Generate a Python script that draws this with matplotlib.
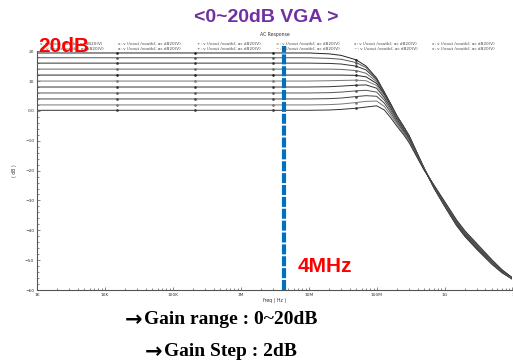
import numpy as np
import matplotlib
matplotlib.use("Agg")
import matplotlib.pyplot as plt
from matplotlib.ticker import FixedLocator, LogLocator, NullFormatter

# frequency points (Hz)
freq = [1e3, 1.5e4, 2.1e5, 3e6, 1e7, 2e7, 3e7, 5e7, 7e7, 1e8, 1.3e8, 1.6e8,
        2e8, 2.5e8, 3e8, 4e8, 5e8, 7e8, 1e9, 1.5e9, 2e9, 3e9, 5e9, 7e9, 1e10]

# gain settings (dB) and magnitude response per setting (dB)
gains = [20, 18, 16, 14, 12, 10, 8, 6, 4, 2, 0]
mag = {
    20: [19.4, 19.4, 19.4, 19.4, 19.4, 19.1, 18.6, 17.1, 15.0, 11.0, 6.3, 2.5, -1.7, -5.2, -8.2,
         -14.4, -19.2, -25.9, -31.9, -38.4, -42.1, -46.4, -51.4, -54.2, -56.4],
    18: [17.8, 17.8, 17.8, 17.8, 17.8, 17.6, 17.3, 16.2, 14.5, 10.8, 6.2, 2.4, -1.8, -5.3, -8.3,
         -14.4, -19.2, -25.8, -31.8, -38.2, -41.9, -46.2, -51.3, -54.1, -56.4],
    16: [16.0, 16.0, 16.0, 16.0, 16.0, 15.9, 15.7, 15.0, 13.7, 10.4, 6.0, 2.3, -1.9, -5.4, -8.4,
         -14.5, -19.2, -25.7, -31.7, -38.1, -41.8, -46.1, -51.2, -54.0, -56.3],
    14: [14.0, 14.0, 14.0, 14.0, 14.0, 14.0, 13.9, 13.5, 12.6, 9.8, 5.8, 2.1, -2.0, -5.5, -8.5,
         -14.6, -19.2, -25.6, -31.5, -37.9, -41.6, -45.9, -51.1, -53.9, -56.3],
    12: [12.0, 12.0, 12.0, 12.0, 12.0, 12.0, 12.0, 11.9, 11.4, 9.2, 5.5, 1.9, -2.2, -5.7, -8.6,
         -14.7, -19.3, -25.5, -31.3, -37.7, -41.4, -45.7, -50.9, -53.8, -56.2],
    10: [10.0, 10.0, 10.0, 10.0, 10.0, 10.1, 10.2, 10.3, 10.1, 8.5, 5.0, 1.6, -2.4, -5.9, -8.8,
         -14.8, -19.3, -25.4, -31.2, -37.5, -41.2, -45.5, -50.8, -53.7, -56.2],
    8: [8.0, 8.0, 8.0, 8.0, 8.0, 8.1, 8.3, 8.6, 8.7, 7.6, 4.4, 1.1, -2.8, -6.2, -9.0,
        -15.0, -19.4, -25.3, -31.0, -37.3, -41.0, -45.3, -50.6, -53.6, -56.1],
    6: [6.0, 6.0, 6.0, 6.0, 6.0, 6.1, 6.3, 6.7, 6.9, 6.3, 3.6, 0.4, -3.3, -6.6, -9.3,
        -15.2, -19.5, -25.2, -30.9, -37.1, -40.8, -45.1, -50.5, -53.5, -56.1],
    4: [4.0, 4.0, 4.0, 4.0, 4.0, 4.1, 4.3, 4.8, 5.1, 4.9, 2.6, -0.4, -3.9, -7.0, -9.7,
        -15.4, -19.6, -25.1, -30.7, -36.9, -40.6, -44.9, -50.3, -53.4, -56.0],
    2: [2.0, 2.0, 2.0, 2.0, 2.0, 2.1, 2.3, 2.8, 3.2, 3.3, 1.5, -1.3, -4.5, -7.5, -10.1,
        -15.6, -19.7, -25.0, -30.5, -36.7, -40.4, -44.7, -50.1, -53.3, -56.0],
    0: [0.2, 0.2, 0.2, 0.2, 0.2, 0.3, 0.5, 0.9, 1.3, 1.7, 0.3, -2.2, -5.2, -8.0, -10.6,
        -15.8, -19.8, -24.9, -30.3, -36.5, -40.2, -44.5, -49.9, -53.2, -55.9],
}
colors = ["#222222", "#555555", "#333333", "#666666", "#222222", "#777777",
          "#333333", "#555555", "#444444", "#777777", "#333333"]

legend_labels = ["v: v (/vout /voutb); ac dB20(V)", "x: v (/vout /voutb); ac dB20(V)",
                 "+: v (/vout /voutb); ac dB20(V)", "=: v (/vout /voutb); ac dB20(V)",
                 "x: v (/vout /voutb); ac dB20(V)", "x: v (/vout /voutb); ac dB20(V)",
                 "=: v (/vout /voutb); ac dB20(V)", "a: v (/vout /voutb); ac dB20(V)",
                 "+: v (/vout /voutb); ac dB20(V)", "~: v (/vout /voutb); ac dB20(V)",
                 "~: v (/vout /voutb); ac dB20(V)", "x: v (/vout /voutb); ac dB20(V)"]

xticks = [1e3, 1e4, 1e5, 1e6, 1e7, 1e8, 1e9, 1e10]
xtick_labels = ["1K", "10K", "100K", "1M", "10M", "100M", "1G", "1"]
yticks = [20, 10, 0, -10, -20, -30, -40, -50, -60]
ytick_labels = ["20", "10", "0.0", "\u221210", "\u221220", "\u221230", "\u221240", "\u221250", "\u221260"]

bw_freq = 4.3e6  # marked bandwidth line

fig = plt.figure(figsize=(5.13, 3.63), dpi=100)
ax = fig.add_axes([0.072, 0.201, 0.927, 0.658])

for g, c in zip(gains, colors):
    ax.plot(freq, mag[g], color=c, lw=0.7, marker="o", ms=0.9, markevery=[1, 2, 3, 7],
            zorder=2)

ax.set_xscale("log")
ax.set_xlim(1e3, 1e10)
ax.set_ylim(-60, 20)
ax.xaxis.set_major_locator(FixedLocator(xticks))
ax.set_xticklabels(xtick_labels)
ax.xaxis.set_minor_locator(LogLocator(base=10, subs=np.arange(2, 10)))
ax.xaxis.set_minor_formatter(NullFormatter())
ax.set_yticks(yticks)
ax.set_yticklabels(ytick_labels)
ax.yaxis.set_minor_locator(FixedLocator(np.arange(-60, 21, 2)))
ax.tick_params(axis="both", which="both", direction="in", labelsize=3.2,
               colors="#555555", labelcolor="#333333", width=0.5)
ax.tick_params(axis="both", which="major", length=2.5, pad=2)
ax.tick_params(axis="both", which="minor", length=1.5)
for s in ["top", "right"]:
    ax.spines[s].set_visible(False)
for s in ["left", "bottom"]:
    ax.spines[s].set_color("#555555")
    ax.spines[s].set_linewidth(0.8)

ax.set_xlabel("freq ( Hz )", fontsize=3.3, labelpad=1, color="#333333")
ax.set_ylabel("( dB )", fontsize=3.3, labelpad=6, color="#333333")
ax.set_title("AC Response", fontsize=3.3, pad=11, color="#333333")

# legend strip above the plot
for i, lab in enumerate(legend_labels):
    row, col = divmod(i, 6)
    fig.text((40 + col * 78.5) / 513, 1 - (44 + row * 5) / 363, lab, fontsize=3,
             color="#444444", va="center", ha="left", zorder=1)

# bandwidth marker
ax.axvline(bw_freq, ymin=0, ymax=1.02, color="#0070C0", lw=3.0,
           dashes=(2.4, 0.45), clip_on=False, zorder=3)

narrow = ["Liberation Sans Narrow", "Liberation Sans", "DejaVu Sans"]
serif = ["Liberation Serif", "DejaVu Serif"]
fig.text(266 / 513, 1 - 17 / 363, "<0~20dB VGA >", color="#7030A0", fontsize=14,
         fontweight="bold", ha="center", va="center", family=narrow)
fig.text(38 / 513, 1 - 46 / 363, "20dB", color="#FF0000", fontsize=15,
         fontweight="bold", ha="left", va="center", family=narrow, zorder=5)
fig.text(298 / 513, 1 - 266 / 363, "4MHz", color="#FF0000", fontsize=15,
         fontweight="bold", ha="left", va="center", family=narrow)

# bullet lines: arrow glyph then text
bullets = ["Gain range : 0~20dB", "Gain Step : 2dB"]
bullet_x = [125, 145]
bullet_y = [320, 352]
for txt, bx, by in zip(bullets, bullet_x, bullet_y):
    fig.text(bx / 513, 1 - by / 363, "\u2192", color="black", fontsize=15,
             fontweight="bold", ha="left", va="center", family="DejaVu Sans")
    fig.text((bx + 19) / 513, 1 - by / 363, txt, color="black", fontsize=14,
             fontweight="bold", ha="left", va="center", family=serif)

fig.savefig("out.png", dpi=100)
